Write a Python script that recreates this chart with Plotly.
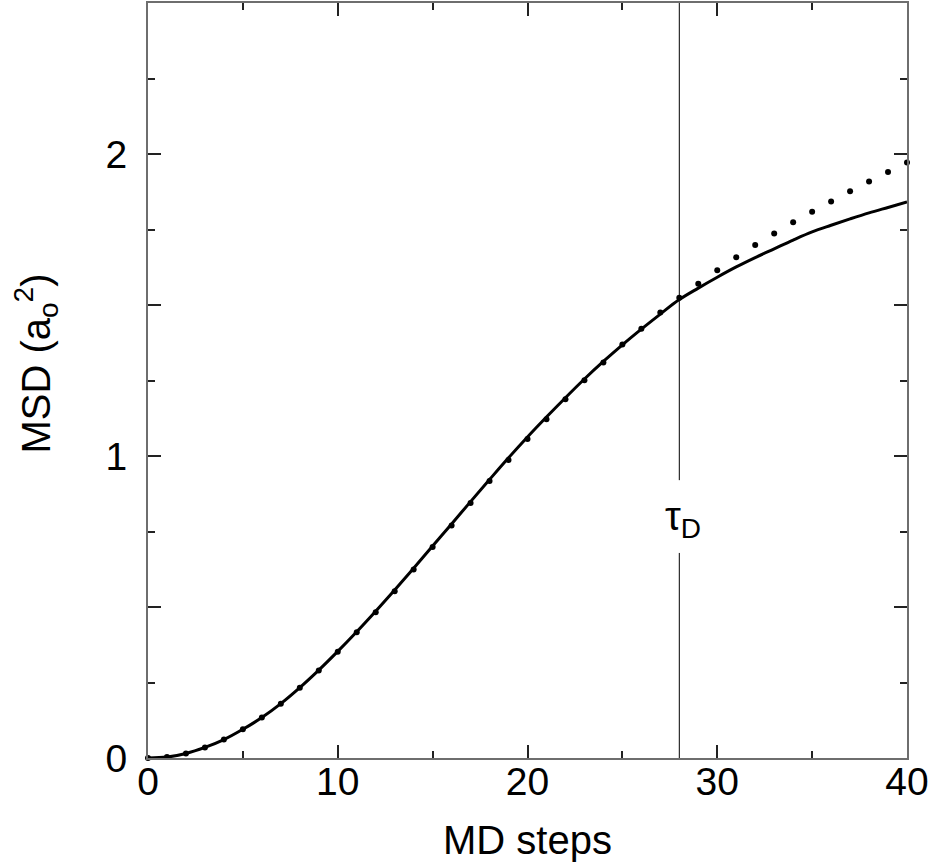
import plotly.graph_objects as go

# Data
md_steps = list(range(0, 41))
msd_points = [0.0, 0.003, 0.015, 0.035, 0.061, 0.095, 0.134, 0.180, 0.233, 0.290,
              0.352, 0.416, 0.483, 0.552, 0.624, 0.699, 0.770, 0.844, 0.917, 0.987,
              1.056, 1.122, 1.188, 1.251, 1.310, 1.369, 1.421, 1.475, 1.524, 1.570,
              1.615, 1.658, 1.699, 1.737, 1.774, 1.809, 1.843, 1.877, 1.909, 1.940,
              1.972]
msd_curve = [0.0, 0.003, 0.015, 0.035, 0.061, 0.095, 0.134, 0.180, 0.233, 0.291,
             0.353, 0.418, 0.486, 0.556, 0.628, 0.702, 0.775, 0.849, 0.922, 0.994,
             1.063, 1.129, 1.193, 1.255, 1.313, 1.368, 1.420, 1.470, 1.518, 1.556,
             1.592, 1.626, 1.657, 1.686, 1.715, 1.742, 1.764, 1.785, 1.805, 1.823,
             1.841]
tau_d = 28
x_tickvals = [0, 10, 20, 30, 40]
x_ticktext = ["0", "10", "20", "30", "40"]
y_tickvals = [0, 0.5, 1, 1.5, 2, 2.5]
y_ticktext = ["0", "", "1", "", "2", ""]

FONT = "Liberation Sans, Arial, sans-serif"

fig = go.Figure()
fig.add_trace(go.Scatter(
    x=md_steps, y=msd_curve, mode="lines",
    line=dict(color="black", width=3, shape="spline"),
    cliponaxis=False, showlegend=False, hoverinfo="skip"))
fig.add_trace(go.Scatter(
    x=md_steps, y=msd_points, mode="markers",
    marker=dict(color="black", size=6),
    cliponaxis=False, showlegend=False))

# vertical tau_D line with a gap for the label
fig.add_shape(type="line", xref="x", yref="y", x0=tau_d, x1=tau_d, y0=0, y1=0.679,
              line=dict(color="black", width=1))
fig.add_shape(type="line", xref="x", yref="y", x0=tau_d, x1=tau_d, y0=0.92, y1=2.5,
              line=dict(color="black", width=1))
fig.add_annotation(x=tau_d, y=0.79, xref="x", yref="y", text="τ<sub>D</sub>",
                   showarrow=False, xshift=4,
                   font=dict(family=FONT, size=40, color="black"))

# y-axis title as annotation
fig.add_annotation(xref="paper", yref="paper", x=-0.148, y=0.522,
                   xanchor="center", yanchor="middle",
                   text="MSD (a<sub>o</sub><sup>2</sup>)", textangle=-90,
                   showarrow=False, font=dict(family=FONT, size=40, color="black"))

axis_common = dict(
    showgrid=False, zeroline=False, showline=True, linecolor="#6e6e6e", linewidth=2,
    mirror="ticks", ticks="inside", ticklen=13, tickwidth=1.5, tickcolor="#222",
    tickfont=dict(family=FONT, size=39, color="black"),
)
fig.update_xaxes(range=[0, 40], tickvals=x_tickvals, ticktext=x_ticktext,
                 ticklabelstandoff=-12,
                 minor=dict(ticks="inside", ticklen=7, dtick=5, tickwidth=1.5, tickcolor="#222"),
                 title=dict(text="MD steps", font=dict(family=FONT, size=40, color="black"),
                            standoff=24),
                 **axis_common)
fig.update_yaxes(range=[0, 2.5], tickvals=y_tickvals, ticktext=y_ticktext,
                 ticklabelstandoff=11,
                 minor=dict(ticks="inside", ticklen=7, dtick=0.25, tickwidth=1.5, tickcolor="#222"),
                 **axis_common)

fig.update_layout(
    width=930, height=862,
    margin=dict(l=148, r=23, t=1, b=104),
    plot_bgcolor="white", paper_bgcolor="white",
    font=dict(family=FONT, color="black"),
)
fig.write_html("out.html", config={"displayModeBar": False},
               post_script="document.body.style.margin='0px';")
